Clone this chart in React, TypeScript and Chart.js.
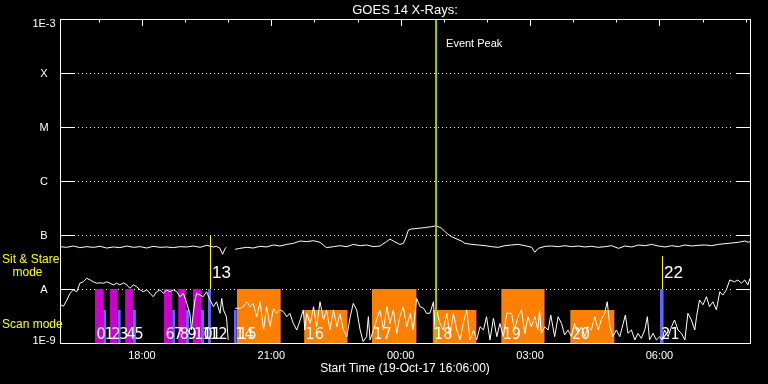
import React, { useEffect, useRef } from "react";
import { Chart, registerables } from "chart.js";

Chart.register(...registerables);

// ---- axes (time in hours counted from 19-Oct-17 00:00; flux in W/m^2) ----
const xMin = 16.1; // 16:06
const xMax = 32.1; // 08:06 next day
const yMin = 1e-9;
const yMax = 1e-3;
const titleText = "GOES 14 X-Rays:";
const xTitle = "Start Time (19-Oct-17 16:06:00)";
const xTickHours = [18, 21, 24, 27, 30];
const xTickLabels = ["18:00", "21:00", "00:00", "03:00", "06:00"];
const yLevels = [1e-3, 1e-4, 1e-5, 1e-6, 1e-7, 1e-8, 1e-9];
const yLevelLabels = ["1E-3", "X", "M", "C", "B", "A", "1E-9"];
const gridLevels = [1e-4, 1e-5, 1e-6, 1e-7, 1e-8];

// ---- GOES long channel (upper trace) ----
const longTime = [16.10,16.25,16.41,16.56,16.72,16.87,17.03,17.18,17.34,17.49,17.65,17.80,17.96,18.11,18.26,18.42,18.57,18.73,18.88,19.04,19.19,19.35,19.50,19.66,19.73,19.81,19.87,19.93,19.96,20.05,20.16,20.27,20.43,20.58,20.74,20.89,21.05,21.20,21.36,21.51,21.67,21.82,21.97,22.13,22.28,22.44,22.59,22.75,22.90,23.06,23.21,23.37,23.52,23.67,23.75,23.83,23.98,24.06,24.10,24.14,24.18,24.25,24.41,24.56,24.72,24.80,24.87,24.95,25.03,25.10,25.18,25.26,25.41,25.49,25.65,25.80,25.96,26.11,26.26,26.42,26.57,26.73,26.88,27.04,27.11,27.19,27.35,27.50,27.66,27.81,27.96,28.12,28.27,28.43,28.58,28.74,28.89,29.05,29.20,29.36,29.51,29.67,29.82,29.97,30.13,30.28,30.44,30.59,30.75,30.90,31.06,31.21,31.37,31.52,31.67,31.83,31.98,32.06,32.10];
const longFlux = [6.08e-8,5.91e-8,6.26e-8,5.83e-8,6.08e-8,5.91e-8,6.17e-8,5.74e-8,6.0e-8,5.83e-8,6.26e-8,5.91e-8,6.08e-8,5.74e-8,6.17e-8,5.91e-8,6.0e-8,5.83e-8,6.08e-8,6.0e-8,6.26e-8,5.91e-8,6.44e-8,6.0e-8,6.17e-8,5.66e-8,4.39e-8,5.66e-8,5.91e-8,null,5.43e-8,5.66e-8,5.91e-8,5.74e-8,6.17e-8,6.0e-8,6.53e-8,6.26e-8,6.7e-8,7.0e-8,7.74e-8,7.53e-8,7.85e-8,7.32e-8,5.83e-8,6.08e-8,6.34e-8,6.08e-8,6.7e-8,6.34e-8,6.53e-8,6.08e-8,6.26e-8,7.53e-8,8.4e-8,7.74e-8,6.7e-8,7.0e-8,8.1e-8,1.0e-7,1.24e-7,1.29e-7,1.33e-7,1.37e-7,1.43e-7,1.47e-7,1.43e-7,1.33e-7,1.15e-7,1.03e-7,9.3e-8,8.7e-8,7.74e-8,7.0e-8,6.7e-8,6.53e-8,6.34e-8,6.08e-8,5.91e-8,6.34e-8,6.53e-8,6.7e-8,6.34e-8,5.91e-8,4.78e-8,5.66e-8,6.17e-8,6.26e-8,6.08e-8,6.34e-8,6.08e-8,6.26e-8,6.0e-8,6.17e-8,5.91e-8,6.08e-8,6.34e-8,5.66e-8,6.26e-8,6.0e-8,6.53e-8,6.34e-8,6.7e-8,6.26e-8,6.0e-8,6.34e-8,6.08e-8,6.53e-8,6.26e-8,6.44e-8,6.53e-8,6.34e-8,6.7e-8,6.9e-8,7.1e-8,7.32e-8,7.74e-8,7.32e-8,7.53e-8];

// ---- GOES short channel (lower trace) ----
const shortTime = [16.11,16.18,16.26,16.33,16.41,16.49,16.56,16.64,16.72,16.80,16.87,16.95,17.03,17.11,17.18,17.26,17.34,17.41,17.49,17.57,17.65,17.72,17.80,17.88,17.96,18.03,18.11,18.19,18.26,18.34,18.42,18.50,18.57,18.65,18.73,18.81,18.88,18.96,19.04,19.11,19.15,19.19,19.23,19.27,19.35,19.42,19.50,19.58,19.66,19.73,19.81,19.85,19.89,19.96,20.00,20.08,20.16,20.27,20.35,20.43,20.51,20.58,20.66,20.74,20.82,20.89,20.97,21.05,21.12,21.20,21.28,21.36,21.43,21.51,21.59,21.67,21.74,21.78,21.82,21.90,21.98,22.05,22.13,22.21,22.28,22.36,22.44,22.52,22.59,22.67,22.75,22.83,22.90,22.98,23.06,23.13,23.21,23.25,23.29,23.37,23.44,23.52,23.60,23.68,23.75,23.83,23.91,23.98,24.06,24.14,24.22,24.29,24.37,24.45,24.53,24.60,24.68,24.76,24.80,24.83,24.91,24.99,25.07,25.14,25.22,25.30,25.38,25.45,25.53,25.61,25.69,25.76,25.84,25.92,25.99,26.07,26.15,26.23,26.30,26.38,26.46,26.57,26.64,26.72,26.80,26.88,26.95,27.03,27.11,27.18,27.22,27.26,27.34,27.42,27.48,27.57,27.65,27.73,27.80,27.88,27.96,28.03,28.11,28.19,28.27,28.34,28.42,28.50,28.58,28.65,28.73,28.79,28.85,28.92,29.00,29.08,29.16,29.21,29.27,29.35,29.43,29.50,29.58,29.66,29.72,29.77,29.85,29.93,30.01,30.06,30.12,30.20,30.28,30.35,30.43,30.51,30.59,30.66,30.74,30.82,30.86,30.93,31.01,31.09,31.16,31.24,31.32,31.40,31.47,31.55,31.63,31.74,31.82,31.90,31.98,32.05,32.10];
const shortFlux = [5.1e-9,4.8e-9,6.25e-9,8.3e-9,9.6e-9,8.9e-9,1.28e-8,1.36e-8,1.58e-8,1.47e-8,1.36e-8,1.28e-8,1.30e-8,1.28e-8,1.36e-8,1.28e-8,1.19e-8,1.28e-8,1.19e-8,1.30e-8,1.19e-8,1.03e-8,1.19e-8,1.10e-8,9.6e-9,8.9e-9,9.6e-9,8.3e-9,7.2e-9,8.9e-9,9.6e-9,8.3e-9,9.6e-9,8.9e-9,9.6e-9,8.9e-9,7.2e-9,8.3e-9,5.4e-9,3.55e-9,1.74e-9,3.55e-9,6.25e-9,8.3e-9,7.7e-9,7.2e-9,8.9e-9,6.25e-9,4.7e-9,5.8e-9,3.55e-9,6.7e-9,4.1e-9,3.07e-9,1.14e-9,null,4.4e-9,4.4e-9,4.7e-9,5.8e-9,4.7e-9,5.4e-9,3.07e-9,5.8e-9,1.74e-9,4.7e-9,2.0e-9,4.4e-9,3.55e-9,4.1e-9,3.8e-9,3.07e-9,3.55e-9,2.3e-9,1.74e-9,2.67e-9,4.1e-9,1.74e-9,3.55e-9,2.3e-9,4.7e-9,2.0e-9,5.8e-9,2.67e-9,4.1e-9,1.74e-9,4.1e-9,2.0e-9,3.55e-9,1.74e-9,1.31e-9,3.07e-9,5.4e-9,4.1e-9,1.74e-9,1.06e-9,1.31e-9,3.07e-9,1.14e-9,1.74e-9,2.67e-9,4.1e-9,1.74e-9,4.7e-9,2.3e-9,4.1e-9,1.51e-9,3.07e-9,4.7e-9,2.0e-9,3.55e-9,1.74e-9,6.7e-9,4.7e-9,4.4e-9,3.55e-9,3.55e-9,5.8e-9,1.74e-9,4.1e-9,2.3e-9,1.74e-9,3.55e-9,1.31e-9,3.55e-9,1.74e-9,1.14e-9,2.3e-9,4.1e-9,1.14e-9,1.74e-9,1.14e-9,2.0e-9,1.74e-9,3.07e-9,1.14e-9,2.86e-9,1.31e-9,2.3e-9,1.31e-9,3.55e-9,3.55e-9,1.74e-9,3.07e-9,4.1e-9,1.51e-9,3.07e-9,2.0e-9,3.07e-9,1.74e-9,4.1e-9,1.51e-9,2.0e-9,1.74e-9,3.3e-9,1.31e-9,3.07e-9,2.3e-9,1.41e-9,1.74e-9,1.31e-9,2.3e-9,1.51e-9,2.0e-9,1.31e-9,2.0e-9,1.74e-9,3.07e-9,1.74e-9,2.67e-9,3.55e-9,5.8e-9,2.0e-9,1.31e-9,1.74e-9,1.31e-9,2.3e-9,3.3e-9,1.51e-9,1.74e-9,1.14e-9,1.51e-9,1.22e-9,1.74e-9,3.07e-9,1.14e-9,1.51e-9,1.14e-9,1.31e-9,1.14e-9,1.74e-9,1.31e-9,2.0e-9,2.67e-9,1.74e-9,1.51e-9,1.14e-9,3.55e-9,2.67e-9,1.74e-9,3.07e-9,6.25e-9,5.1e-9,7.2e-9,4.7e-9,5.8e-9,4.1e-9,8.9e-9,7.7e-9,9.6e-9,1.47e-8,1.36e-8,1.47e-8,1.28e-8,1.47e-8,1.19e-8,1.58e-8];

// ---- observation blocks (start/end hour, top level, kind, label) ----
const obsStart = [16.91,17.10,17.26,17.44,17.61,17.79,18.51,18.70,18.84,19.02,19.18,19.37,19.53,20.13,20.20,21.76,23.33,24.74,26.33,27.93,30.01];
const obsEnd   = [17.10,17.17,17.44,17.51,17.79,17.86,18.70,18.77,19.02,19.09,19.37,19.44,19.60,20.20,21.22,22.77,24.37,25.76,27.34,28.96,30.10];
const obsTop   = [1e-8,4.1e-9,1e-8,4.1e-9,1e-8,4.1e-9,1e-8,4.1e-9,1e-8,4.1e-9,1e-8,4.1e-9,1e-8,4.1e-9,1e-8,4.1e-9,1e-8,4.1e-9,1e-8,4.1e-9,1e-8];
const obsKind  = ["m","b","m","b","m","b","m","b","m","b","m","b","b","b","o","o","o","o","o","o","b"];
const obsLabel = ["0","1","2","3","4","5","6","7","8","9","10","11","12","14","15","16","17","18","19","20","21"];

// ---- sit & stare markers ----
const stareTime = [19.59, 30.07];
const stareTop = [1e-7, 4.1e-8];
const stareLabel = ["13", "22"];

// ---- event peak ----
const peakTime = 24.82;
const peakLabel = "Event Peak";

const kindColor: Record<string, string> = { m: "#cc00cc", b: "#6464ff", o: "#ff8000" };

const SANS = "'Liberation Sans', 'DejaVu Sans', sans-serif";
const NARROW = "'Liberation Sans Narrow', 'DejaVu Sans Condensed', 'Liberation Sans', sans-serif";

const decor = {
  id: "decor",
  beforeDatasetsDraw(chart: any) {
    const { ctx, chartArea: a, scales } = chart;
    const y = scales.y;
    ctx.save();
    ctx.strokeStyle = "#ffffff";
    ctx.lineWidth = 1;
    gridLevels.forEach((v) => {
      const py = Math.round(y.getPixelForValue(v)) + 0.5;
      ctx.setLineDash([]);
      ctx.beginPath();
      ctx.moveTo(a.left, py);
      ctx.lineTo(a.left + 15, py);
      ctx.moveTo(a.right - 14, py);
      ctx.lineTo(a.right, py);
      ctx.stroke();
      ctx.setLineDash([1, 3]);
      ctx.beginPath();
      ctx.moveTo(Math.round(a.left) + 18, py);
      ctx.lineTo(a.right - 18, py);
      ctx.stroke();
    });
    ctx.restore();
  },
  afterDatasetsDraw(chart: any) {
    const { ctx, chartArea: a, scales } = chart;
    const x = scales.x;
    const y = scales.y;
    ctx.save();
    ctx.setLineDash([]);
    ctx.strokeStyle = "#ffffff";
    ctx.lineWidth = 1;
    // frame
    ctx.strokeRect(Math.round(a.left) + 0.5, Math.round(a.top) + 0.5, Math.round(a.right - a.left), Math.round(a.bottom - a.top));
    // top ticks each hour
    for (let h = Math.ceil(xMin); h <= Math.floor(xMax); h++) {
      const px = Math.round(x.getPixelForValue(h)) + 0.5;
      const len = xTickHours.includes(h) ? 7 : 3.5;
      ctx.beginPath();
      ctx.moveTo(px, a.top);
      ctx.lineTo(px, a.top + len);
      ctx.stroke();
    }
    ctx.fillStyle = "#ffffff";
    // title
    ctx.font = `13px ${SANS}`;
    ctx.textAlign = "center";
    ctx.textBaseline = "alphabetic";
    ctx.fillText(titleText, (a.left + a.right) / 2, a.top - 5);
    // y labels
    ctx.font = `11px ${SANS}`;
    yLevels.forEach((v, i) => {
      const py = y.getPixelForValue(v);
      let base = py + 4;
      if (i === 0) base = py + 8;
      if (i === yLevels.length - 1) base = py + 0.5;
      ctx.fillText(yLevelLabels[i], 44, base);
    });
    // x tick labels
    xTickHours.forEach((h, i) => {
      ctx.fillText(xTickLabels[i], x.getPixelForValue(h), a.bottom + 15.5);
    });
    ctx.font = `12px ${SANS}`;
    ctx.fillText(xTitle, (a.left + a.right) / 2, a.bottom + 28.5);
    // mode labels
    const yA = y.getPixelForValue(1e-8);
    ctx.fillStyle = "#ffff00";
    ctx.textAlign = "left";
    ctx.fillText("Sit & Stare", 2, yA - 26);
    ctx.fillText("mode", 12.5, yA - 13.5);
    ctx.fillText("Scan mode", 2, yA + 38.5);
    // event peak label
    ctx.fillStyle = "#ffffff";
    ctx.font = `11px ${SANS}`;
    ctx.fillText(peakLabel, x.getPixelForValue(peakTime) + 10, a.top + 28);
    // sit & stare labels
    ctx.font = `17px ${SANS}`;
    stareTime.forEach((t, i) => {
      ctx.fillText(stareLabel[i], x.getPixelForValue(t) + 1.5, yA - 11);
    });
    // observation labels
    ctx.font = `16px ${NARROW}`;
    obsStart.forEach((t, i) => {
      ctx.fillText(obsLabel[i], x.getPixelForValue(t) + 1.5, a.bottom - 4.5);
    });
    ctx.restore();
  },
};

export default function App() {
  const ref = useRef<HTMLCanvasElement>(null);
  useEffect(() => {
    const canvas = ref.current;
    if (!canvas) return;
    const datasets: any[] = [];
    datasets.push({
      data: [{ x: peakTime, y: yMin }, { x: peakTime, y: yMax }],
      borderColor: "#a0c800",
      borderWidth: 2,
      pointRadius: 0,
      order: 0,
    });
    stareTime.forEach((t, i) => {
      datasets.push({
        data: [{ x: t, y: 1e-8 }, { x: t, y: stareTop[i] }],
        borderColor: "#ffff00",
        borderWidth: 1,
        pointRadius: 0,
        order: 1,
      });
    });
    datasets.push({
      data: longTime.map((t, i) => ({ x: t, y: longFlux[i] ?? null })),
      borderColor: "#ffffff",
      borderWidth: 1,
      pointRadius: 0,
      spanGaps: false,
      order: 2,
    });
    datasets.push({
      data: shortTime.map((t, i) => ({ x: t, y: shortFlux[i] ?? null })),
      borderColor: "#ffffff",
      borderWidth: 1,
      pointRadius: 0,
      spanGaps: false,
      order: 3,
    });
    obsStart.forEach((s, i) => {
      datasets.push({
        data: [{ x: s, y: obsTop[i] }, { x: obsEnd[i], y: obsTop[i] }],
        borderColor: "rgba(0,0,0,0)",
        borderWidth: 0,
        backgroundColor: kindColor[obsKind[i]],
        fill: { value: yMin },
        pointRadius: 0,
        order: 10,
      });
    });
    const chart = new Chart(canvas, {
      type: "line",
      data: { datasets },
      options: {
        responsive: false,
        animation: false,
        devicePixelRatio: 1,
        events: [],
        layout: { padding: { left: 60, top: 19, right: 18, bottom: 41 } },
        plugins: {
          legend: { display: false },
          tooltip: { enabled: false },
          title: { display: false },
        },
        scales: {
          x: { type: "linear", min: xMin, max: xMax, display: false },
          y: { type: "logarithmic", min: yMin, max: yMax, display: false },
        },
      },
      plugins: [decor],
    } as any);
    return () => chart.destroy();
  }, []);
  return (
    <div style={{ position: "fixed", left: 0, top: 0, width: 768, height: 384, background: "#000000" }}>
      <canvas ref={ref} width={768} height={384} style={{ display: "block" }} />
    </div>
  );
}
